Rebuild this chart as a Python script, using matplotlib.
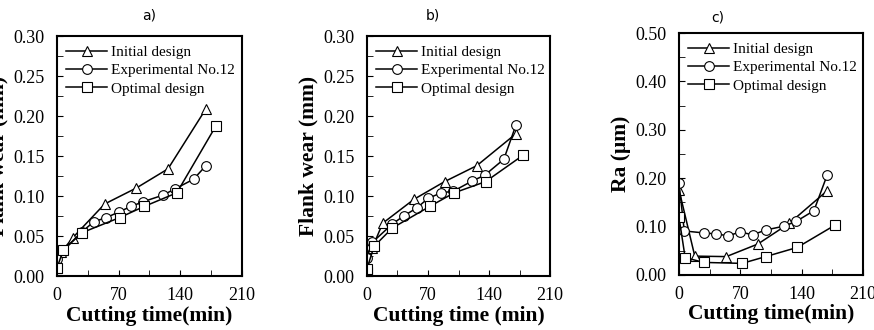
import matplotlib
matplotlib.use("Agg")
import matplotlib.pyplot as plt
from matplotlib.ticker import MultipleLocator

plt.rcParams['font.family'] = ['Liberation Serif', 'DejaVu Serif']

series_names = ['Initial design', 'Experimental No.12', 'Optimal design']
markers = ['^', 'o', 's']

# panel a) flank wear
a_init_t = [0, 5, 18, 54, 90, 126, 169]
a_init_v = [0.010, 0.030, 0.048, 0.090, 0.110, 0.134, 0.209]
a_exp_t = [0, 7, 28, 42, 56, 70, 84, 98, 120, 134, 155, 169]
a_exp_v = [0.021, 0.032, 0.055, 0.068, 0.073, 0.080, 0.087, 0.093, 0.101, 0.109, 0.121, 0.138]
a_opt_t = [0, 7, 28, 71, 99, 136, 180]
a_opt_v = [0.010, 0.032, 0.054, 0.073, 0.087, 0.104, 0.187]

# panel b) flank wear
b_init_t = [0, 6, 18, 54, 89, 126, 171]
b_init_v = [0.012, 0.035, 0.066, 0.096, 0.118, 0.138, 0.178]
b_exp_t = [0, 6, 29, 42, 57, 70, 85, 99, 121, 135, 157, 171]
b_exp_v = [0.023, 0.042, 0.065, 0.075, 0.085, 0.097, 0.104, 0.106, 0.119, 0.126, 0.146, 0.189]
b_opt_t = [0, 0, 8, 29, 72, 100, 136, 179]
b_opt_v = [0.005, 0.009, 0.037, 0.060, 0.087, 0.104, 0.118, 0.151]

# panel c) surface roughness
c_init_t = [0, 18, 54, 90, 126, 169]
c_init_v = [0.176, 0.039, 0.038, 0.064, 0.107, 0.174]
c_exp_t = [0, 6, 28, 42, 56, 70, 84, 99, 120, 134, 154, 169]
c_exp_v = [0.190, 0.091, 0.087, 0.085, 0.081, 0.089, 0.083, 0.093, 0.101, 0.111, 0.133, 0.206]
c_opt_t = [0, 7, 28, 72, 99, 135, 178]
c_opt_v = [0.119, 0.036, 0.026, 0.024, 0.038, 0.057, 0.103]

panels = [
    ('a)', 0.50, 12, [(a_init_t, a_init_v), (a_exp_t, a_exp_v), (a_opt_t, a_opt_v)],
     'Flank wear (mm)', 'Cutting time(min)', 0.30, 0.05,
     [0.0652, 0.1636, 0.2117, 0.727]),
    ('b)', 0.36, 12, [(b_init_t, b_init_v), (b_exp_t, b_exp_v), (b_opt_t, b_opt_v)],
     'Flank wear (mm)', 'Cutting time (min)', 0.30, 0.05,
     [0.4199, 0.1636, 0.2094, 0.727]),
    ('c)', 0.21, 8, [(c_init_t, c_init_v), (c_exp_t, c_exp_v), (c_opt_t, c_opt_v)],
     'Ra (μm)', 'Cutting time(min)', 0.50, 0.10,
     [0.7769, 0.1667, 0.2105, 0.733]),
]

fig = plt.figure(figsize=(8.74, 3.3), dpi=100)

for title, tx, tpad, data, ylab, xlab, ymax, ystep, pos in panels:
    ax = fig.add_axes(pos)
    for (t, v), name, m in zip(data, series_names, markers):
        ax.plot(t, v, color='black', lw=1.1, marker=m, markersize=7,
                markerfacecolor='white', markeredgecolor='black',
                markeredgewidth=0.8, label=name)
    ax.set_xlim(0, 210)
    ax.set_ylim(0, ymax)
    ax.xaxis.set_major_locator(MultipleLocator(70))
    ax.xaxis.set_minor_locator(MultipleLocator(35))
    ax.yaxis.set_major_locator(MultipleLocator(ystep))
    ax.yaxis.set_minor_locator(MultipleLocator(ystep / 2))
    ax.yaxis.set_major_formatter(plt.FormatStrFormatter('%.2f'))
    ax.tick_params(which='both', direction='in', labelsize=13, top=False, right=False, length=4)
    ax.tick_params(axis='y', which='both', pad=9)
    ax.tick_params(axis='x', which='both', pad=8)
    for s in ax.spines.values():
        s.set_linewidth(1.5)
    ax.set_xlabel(xlab, fontsize=15.5, fontweight='bold', labelpad=1)
    ax.set_ylabel(ylab, fontsize=15.5, fontweight='bold', labelpad=3)
    ax.set_title(title, fontsize=10, family='DejaVu Sans', x=tx, pad=tpad)
    ax.legend(loc='upper left', frameon=False, fontsize=11, handlelength=2.7,
              handletextpad=0.25, labelspacing=0.3, borderaxespad=0.2)

fig.savefig('out.png', dpi=100)
